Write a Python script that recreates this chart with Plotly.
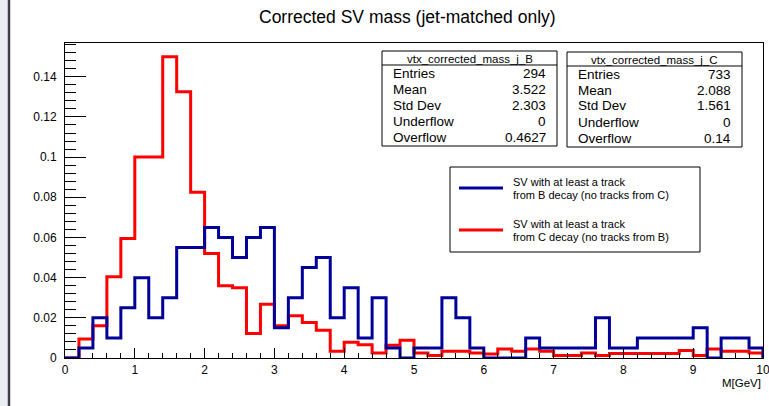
import plotly.graph_objects as go

# ---------------- data ----------------
bin_width = 0.2
n_bins = 50
bin_edges = [round(i * bin_width, 1) for i in range(n_bins + 1)]

# SV with at least a track from B decay (blue)
b_values = [
    0.0, 0.005, 0.02, 0.01, 0.025, 0.04, 0.02, 0.03, 0.055, 0.055,
    0.065, 0.06, 0.05, 0.06, 0.065, 0.015, 0.03, 0.045, 0.05, 0.02,
    0.035, 0.01, 0.03, 0.005, 0.0, 0.005, 0.005, 0.03, 0.02, 0.005,
    0.0, 0.0, 0.0, 0.01, 0.005, 0.005, 0.005, 0.005, 0.02, 0.005,
    0.005, 0.01, 0.01, 0.01, 0.01, 0.015, 0.0, 0.01, 0.01, 0.005,
]
# SV with at least a track from C decay (red)
c_values = [
    0.0, 0.0095, 0.016, 0.0405, 0.0595, 0.1, 0.1, 0.15, 0.1325, 0.0825,
    0.052, 0.036, 0.035, 0.0122, 0.0267, 0.016, 0.021, 0.0177, 0.0138, 0.0033,
    0.0078, 0.0066, 0.0025, 0.0063, 0.0088, 0.0025, 0.0013, 0.0033, 0.0033, 0.0025,
    0.002, 0.0045, 0.0033, 0.0045, 0.0033, 0.0013, 0.0013, 0.0025, 0.0013, 0.0022,
    0.0022, 0.0022, 0.0022, 0.0022, 0.0037, 0.0013, 0.0045, 0.0033, 0.0033, 0.0025,
]

x_tick_vals = [0, 1, 2, 3, 4, 5, 6, 7, 8, 9, 10]
x_tick_text = ["0", "1", "2", "3", "4", "5", "6", "7", "8", "9", "10"]
y_tick_vals = [0, 0.02, 0.04, 0.06, 0.08, 0.1, 0.12, 0.14]
y_tick_text = ["0", "0.02", "0.04", "0.06", "0.08", "0.1", "0.12", "0.14"]

stats_labels = ["Entries", "Mean", "Std Dev", "Underflow", "Overflow"]
stats_b_title = "vtx_corrected_mass_j_B"
stats_b_values = ["294", "3.522", "2.303", "0", "0.4627"]
stats_c_title = "vtx_corrected_mass_j_C"
stats_c_values = ["733", "2.088", "1.561", "0", "0.14"]

legend_b_lines = ["SV with at least a track", "from B decay (no tracks from C)"]
legend_c_lines = ["SV with at least a track", "from C decay (no tracks from B)"]

title_text = "Corrected SV mass (jet-matched only)"
x_label = "M[GeV]"

# ---------------- layout geometry ----------------
W, H = 769, 406
PL, PR, PT, PB = 65, 763, 43, 358
Y_MAX = 0.1568
FONT = "Liberation Sans, Arial, Helvetica, sans-serif"
BLUE = "#000099"
RED = "#ff0000"


def fx(p):
    return (p - PL) / (PR - PL)


def fy(p):
    return (PB - p) / (PB - PT)


def step_xy(values):
    xs = [bin_edges[0]] + bin_edges + [bin_edges[-1]]
    ys = [0.0] + list(values) + [values[-1], 0.0]
    return xs, ys


fig = go.Figure()
for vals, col, name in [(c_values, RED, "C"), (b_values, BLUE, "B")]:
    xs, ys = step_xy(vals)
    fig.add_trace(go.Scatter(
        x=xs, y=ys, mode="lines", line=dict(color=col, width=3, shape="hv"),
        name=name, showlegend=False, hoverinfo="skip",
    ))

shapes = []
annotations = []

# left window strip
shapes.append(dict(type="rect", xref="paper", yref="paper",
                   x0=fx(0), x1=fx(8), y0=fy(H), y1=fy(0),
                   fillcolor="#eceef3", line=dict(width=0), layer="below"))
shapes.append(dict(type="line", xref="paper", yref="paper",
                   x0=fx(9), x1=fx(9), y0=fy(H), y1=fy(0),
                   line=dict(color="#3e404a", width=2.5)))


def stats_box(x0, x1, y0, y1, ysep, title, values):
    shapes.append(dict(type="rect", xref="paper", yref="paper",
                       x0=fx(x0), x1=fx(x1), y0=fy(y1), y1=fy(y0),
                       fillcolor="white", line=dict(color="black", width=1)))
    shapes.append(dict(type="line", xref="paper", yref="paper",
                       x0=fx(x0), x1=fx(x1), y0=fy(ysep), y1=fy(ysep),
                       line=dict(color="black", width=1)))
    annotations.append(dict(text=title, x=fx((x0 + x1) / 2), y=fy((y0 + ysep) / 2 + 0.5),
                            xref="paper", yref="paper", showarrow=False,
                            xanchor="center", yanchor="middle",
                            font=dict(family=FONT, size=11.5, color="black")))
    for i, (lab, val) in enumerate(zip(stats_labels, values)):
        yc = ysep + 8 + 16 * i
        annotations.append(dict(text=lab, x=fx(x0 + 9), y=fy(yc), xref="paper", yref="paper",
                                showarrow=False, xanchor="left", yanchor="middle",
                                font=dict(family=FONT, size=13.5, color="black")))
        annotations.append(dict(text=val, x=fx(x1 - 9), y=fy(yc), xref="paper", yref="paper",
                                showarrow=False, xanchor="right", yanchor="middle",
                                font=dict(family=FONT, size=13.5, color="black")))


stats_box(382, 557, 51, 146, 65, stats_b_title, stats_b_values)
stats_box(567, 742, 52, 147, 66, stats_c_title, stats_c_values)

# legend
LX0, LX1, LY0, LY1 = 450, 700, 167, 252
shapes.append(dict(type="rect", xref="paper", yref="paper",
                   x0=fx(LX0), x1=fx(LX1), y0=fy(LY1), y1=fy(LY0),
                   fillcolor="white", line=dict(color="black", width=1)))
for ly, col, lines in [(188, BLUE, legend_b_lines), (230, RED, legend_c_lines)]:
    shapes.append(dict(type="line", xref="paper", yref="paper",
                       x0=fx(459), x1=fx(503), y0=fy(ly), y1=fy(ly),
                       line=dict(color=col, width=3)))
    for j, t in enumerate(lines):
        annotations.append(dict(text=t, x=fx(511), y=fy(ly - 6 + 12.5 * j),
                                xref="paper", yref="paper", showarrow=False,
                                xanchor="left", yanchor="middle",
                                font=dict(family=FONT, size=11, color="black")))

# title and x label
annotations.append(dict(text=title_text, x=fx(407), y=fy(17), xref="paper", yref="paper",
                        showarrow=False, xanchor="center", yanchor="middle",
                        font=dict(family=FONT, size=17.5, color="black")))
annotations.append(dict(text=x_label, x=fx(763), y=fy(383), xref="paper", yref="paper",
                        showarrow=False, xanchor="right", yanchor="middle",
                        font=dict(family=FONT, size=11.5, color="black")))

fig.update_layout(
    width=W, height=H, autosize=False,
    margin=dict(l=PL, r=W - PR, t=PT, b=H - PB, pad=0),
    paper_bgcolor="white", plot_bgcolor="white",
    showlegend=False,
    shapes=shapes, annotations=annotations,
    font=dict(family=FONT, size=12, color="black"),
    xaxis=dict(
        range=[0, 10], tickvals=x_tick_vals, ticktext=x_tick_text,
        ticks="inside", ticklen=10, tickwidth=1, tickcolor="black",
        minor=dict(dtick=0.2, tick0=0, ticks="inside", ticklen=5, tickwidth=1, tickcolor="black", showgrid=False),
        showline=True, linecolor="black", linewidth=1, mirror=True,
        showgrid=False, zeroline=False, automargin=False,
        ticklabeloverflow="allow", ticklabelstandoff=1,
        tickfont=dict(family=FONT, size=12, color="black"),
    ),
    yaxis=dict(
        range=[0, Y_MAX], tickvals=y_tick_vals, ticktext=y_tick_text,
        ticks="inside", ticklen=21, tickwidth=1, tickcolor="black",
        minor=dict(dtick=0.004, tick0=0, ticks="inside", ticklen=11, tickwidth=1, tickcolor="black", showgrid=False),
        showline=True, linecolor="black", linewidth=1, mirror=True,
        showgrid=False, zeroline=False, automargin=False,
        tickfont=dict(family=FONT, size=12, color="black"),
        ticklabelstandoff=5,
    ),
)

fig.write_html("out.html")
